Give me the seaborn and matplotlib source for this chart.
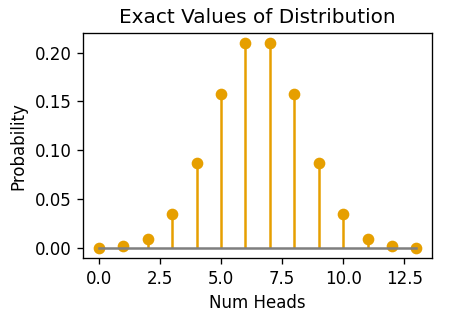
import matplotlib
matplotlib.use("Agg")
import matplotlib.pyplot as plt
import seaborn as sns

num_heads = [0, 1, 2, 3, 4, 5, 6, 7, 8, 9, 10, 11, 12, 13]
probability = [0.000122, 0.00159, 0.00952, 0.0349, 0.0873, 0.1571, 0.2095,
               0.2095, 0.1571, 0.0873, 0.0349, 0.00952, 0.00159, 0.000122]

sns.reset_orig()
plt.rcParams['font.family'] = ['DejaVu Sans']
color = "#E69F00"

dpi = 120
fig = plt.figure(figsize=(454 / dpi, 321 / dpi), dpi=dpi)
ax = fig.add_axes([0.183, 0.196, 0.769, 0.701])
markerline, stemlines, baseline = ax.stem(num_heads, probability)
plt.setp(markerline, color=color)
plt.setp(stemlines, color=color)
plt.setp(baseline, color="#7f7f7f")
ax.set_title("Exact Values of Distribution")
ax.set_xlabel("Num Heads")
ax.set_ylabel("Probability")
sns.despine(ax=ax, top=False, right=False)
fig.savefig("out.png", dpi=dpi)
